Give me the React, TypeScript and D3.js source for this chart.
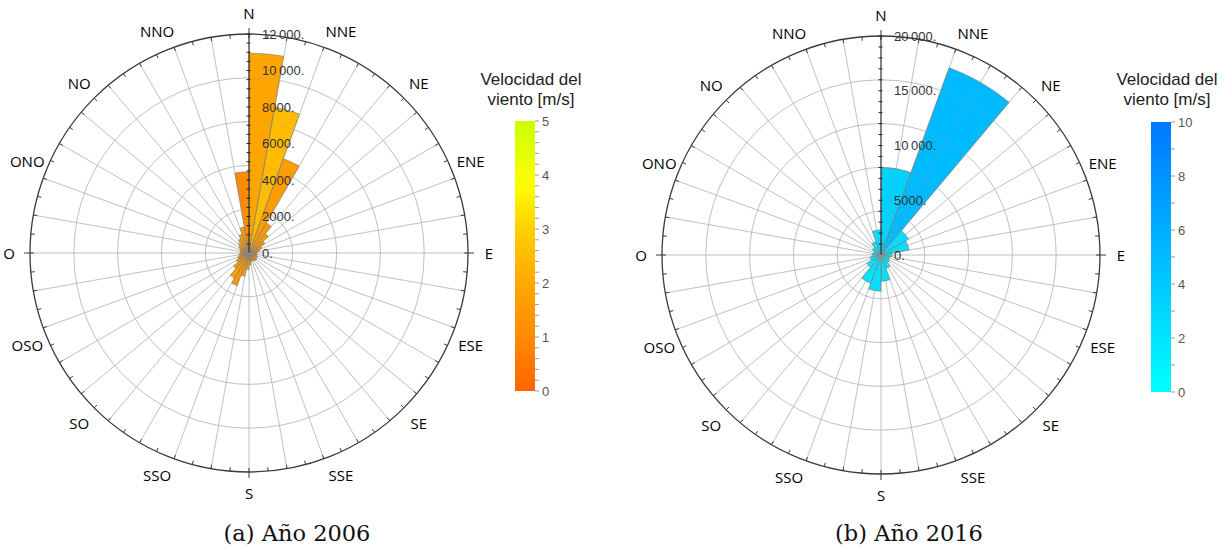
import { useEffect, useRef } from "react";
import * as d3 from "d3";

// 16 compass labels, clockwise from north (Spanish: O = oeste)
const directions = ["N", "NNE", "NE", "ENE", "E", "ESE", "SE", "SSE", "S", "SSO", "SO", "OSO", "O", "ONO", "NO", "NNO"];

// 2006: 36 sectors of 10°, clockwise from N
const freq2006 = [10950, 8100, 5500, 1900, 1400, 1000, 750, 600, 450, 400, 450, 500, 500, 550, 500, 450, 500, 650,
  900, 1300, 1900, 1600, 1100, 800, 650, 550, 500, 450, 500, 550, 650, 750, 900, 1100, 1450, 4450];
const speed2006 = [1.9, 2.5, 1.6, 1.6, 1.5, 1.4, 1.3, 1.2, 1.2, 1.1, 1.2, 1.3, 1.3, 1.4, 1.3, 1.2, 1.3, 1.4,
  1.5, 1.6, 1.4, 1.7, 1.5, 1.3, 1.2, 1.2, 1.1, 1.1, 1.2, 1.2, 1.3, 1.4, 1.5, 1.6, 1.5, 1.05];

// 2016: 18 sectors of 20°, clockwise from N
const freq2016 = [8000, 18200, 2900, 2600, 1000, 800, 900, 1300, 2400, 3300, 2750, 1500, 1000, 800, 700, 900, 1300, 2300];
const speed2016 = [3.4, 5.1, 2.4, 2.2, 1.8, 1.6, 1.6, 1.8, 2.0, 2.2, 2.1, 1.8, 1.6, 1.5, 1.5, 1.6, 1.8, 2.2];

const radialTicks2006 = [0, 2000, 4000, 6000, 8000, 10000, 12000];
const radialTicks2016 = [0, 5000, 10000, 15000, 20000];
const speedTicks2006 = [0, 1, 2, 3, 4, 5];
const speedTicks2016 = [0, 2, 4, 6, 8, 10];

const R = 219;

function fmt(v: number) {
  if (v >= 10000) return d3.format(",")(v).replace(",", "\u2009") + ".";
  return v + ".";
}

function drawGrid(g: any, stroke: string, opacity: number) {
  const rad = (deg: number) => (deg * Math.PI) / 180;
  g.selectAll(null)
    .data([1, 2, 3, 4])
    .join("circle")
    .attr("r", (d: number) => (d * R) / 5)
    .attr("fill", "none")
    .attr("stroke", stroke)
    .attr("stroke-opacity", opacity);
  g.selectAll(null)
    .data(d3.range(0, 360, 10))
    .join("line")
    .attr("x1", 0)
    .attr("y1", 0)
    .attr("x2", (d: number) => R * Math.sin(rad(d)))
    .attr("y2", (d: number) => -R * Math.cos(rad(d)))
    .attr("stroke", stroke)
    .attr("stroke-opacity", opacity);
}

function drawRose(svg: any, o: any) {
  const g = svg.append("g").attr("transform", `translate(${o.cx},${o.cy})`);
  const r = d3.scaleLinear().domain([0, o.max]).range([0, R]);
  const angle = d3.scaleLinear().domain([0, o.freq.length]).range([0, 2 * Math.PI]);
  const color = d3.scaleLinear<string>().domain(o.colorDomain).range(o.colorRange).clamp(true);
  const rad = (deg: number) => (deg * Math.PI) / 180;

  drawGrid(g.append("g"), "#d4d4d4", 1);

  // sectors
  const arc = d3.arc<any>();
  g.append("g")
    .selectAll("path")
    .data(o.freq)
    .join("path")
    .attr("d", (d: number, i: number) =>
      arc({ innerRadius: 0, outerRadius: r(d), startAngle: angle(i), endAngle: angle(i + 1) })
    )
    .attr("fill", (d: number, i: number) => color(o.speed[i]))
    .attr("stroke", "#6b6b6b")
    .attr("stroke-opacity", 0.75)
    .attr("stroke-width", 0.7);

  // grid faintly visible through the sectors
  drawGrid(g.append("g"), "#9a9a9a", 0.28);

  // outer circle
  g.append("circle").attr("r", R).attr("fill", "none").attr("stroke", "#3a3a3a").attr("stroke-width", 1.3);

  // small ticks every 5° pointing inward
  g.append("g")
    .selectAll("line")
    .data(d3.range(0, 360, 5))
    .join("line")
    .attr("x1", (d: number) => R * Math.sin(rad(d)))
    .attr("y1", (d: number) => -R * Math.cos(rad(d)))
    .attr("x2", (d: number) => (R - 4) * Math.sin(rad(d)))
    .attr("y2", (d: number) => -(R - 4) * Math.cos(rad(d)))
    .attr("stroke", "#3a3a3a")
    .attr("stroke-width", 1);

  // cardinal ticks pointing outward
  g.append("g")
    .selectAll("line")
    .data([0, 90, 180, 270])
    .join("line")
    .attr("x1", (d: number) => R * Math.sin(rad(d)))
    .attr("y1", (d: number) => -R * Math.cos(rad(d)))
    .attr("x2", (d: number) => (R + 6) * Math.sin(rad(d)))
    .attr("y2", (d: number) => -(R + 6) * Math.cos(rad(d)))
    .attr("stroke", "#3a3a3a")
    .attr("stroke-width", 1);

  // direction labels
  g.append("g")
    .selectAll("text")
    .data(directions)
    .join("text")
    .attr("x", (d: string, i: number) => 240 * Math.sin(rad(i * 22.5)))
    .attr("y", (d: string, i: number) => -240 * Math.cos(rad(i * 22.5)))
    .attr("text-anchor", "middle")
    .attr("dominant-baseline", "central")
    .attr("font-family", "'Open Sans', sans-serif")
    .attr("font-size", 15)
    .attr("fill", "#000")
    .text((d: string) => d);

  // radial axis along N
  g.append("line").attr("x1", 0).attr("y1", 0).attr("x2", 0).attr("y2", -R).attr("stroke", "#222").attr("stroke-width", 1);
  g.append("g")
    .selectAll("line")
    .data(d3.range(o.minor, o.max + 1, o.minor))
    .join("line")
    .attr("x1", -2.5)
    .attr("x2", 1.5)
    .attr("y1", (d: number) => -r(d))
    .attr("y2", (d: number) => -r(d))
    .attr("stroke", "#222")
    .attr("stroke-width", 1);
  g.append("g")
    .selectAll("text")
    .data(o.radialTicks)
    .join("text")
    .attr("x", 13)
    .attr("y", (d: number) => -r(d))
    .attr("dominant-baseline", "central")
    .attr("font-family", "'Liberation Sans', Arial, sans-serif")
    .attr("font-size", 13)
    .attr("fill", "#333")
    .text((d: number) => fmt(d));

  // colour bar
  const cb = svg.append("g");
  const y = d3.scaleLinear().domain([0, o.speedMax]).range([o.cbBottom, o.cbTop]);
  const grad = svg
    .append("defs")
    .append("linearGradient")
    .attr("id", o.id)
    .attr("x1", 0)
    .attr("y1", 1)
    .attr("x2", 0)
    .attr("y2", 0);
  grad
    .selectAll("stop")
    .data(d3.range(0, 1.0001, 0.05))
    .join("stop")
    .attr("offset", (d: number) => d)
    .attr("stop-color", (d: number) => color(d * o.speedMax));
  cb.append("rect")
    .attr("x", o.cbX)
    .attr("y", o.cbTop)
    .attr("width", 20)
    .attr("height", o.cbBottom - o.cbTop)
    .attr("fill", `url(#${o.id})`);
  cb.append("g")
    .selectAll("line")
    .data(d3.range(0, o.speedMax + 0.0001, o.speedMinor))
    .join("line")
    .attr("x1", o.cbX + 20)
    .attr("x2", o.cbX + 24)
    .attr("y1", (d: number) => y(d))
    .attr("y2", (d: number) => y(d))
    .attr("stroke", "#999")
    .attr("stroke-width", 1);
  cb.append("g")
    .selectAll("text")
    .data(o.speedTicks)
    .join("text")
    .attr("x", o.cbX + 27)
    .attr("y", (d: number) => y(d))
    .attr("dominant-baseline", "central")
    .attr("font-family", "'Liberation Sans', Arial, sans-serif")
    .attr("font-size", 13)
    .attr("fill", "#555")
    .text((d: number) => d);
  const title = cb
    .append("text")
    .attr("text-anchor", "middle")
    .attr("font-family", "'Liberation Sans', Arial, sans-serif")
    .attr("font-size", 17)
    .attr("fill", "#222");
  title.append("tspan").attr("x", o.titleX).attr("y", 85).text("Velocidad del");
  title.append("tspan").attr("x", o.titleX).attr("y", 105).text("viento [m/s]");

  // caption
  svg
    .append("text")
    .attr("x", o.capX)
    .attr("y", 541)
    .attr("text-anchor", "middle")
    .attr("font-family", "'DejaVu Serif', serif")
    .attr("font-size", 22.5)
    .attr("fill", "#111")
    .text(o.caption);
}

export default function App() {
  const svgRef = useRef<SVGSVGElement>(null);

  useEffect(() => {
    if (!svgRef.current) return;
    const svg = d3.select(svgRef.current);
    svg.selectAll("*").remove();

    drawRose(svg, {
      id: "cb2006",
      cx: 249,
      cy: 253,
      max: 12000,
      minor: 500,
      freq: freq2006,
      speed: speed2006,
      radialTicks: radialTicks2006,
      colorDomain: [0, 1, 2, 3, 3.8, 5],
      colorRange: ["#ff6400", "#ff8a00", "#ffa800", "#ffcf00", "#ffff00", "#ccff00"],
      speedMax: 5,
      speedMinor: 0.2,
      speedTicks: speedTicks2006,
      cbX: 515,
      cbTop: 121,
      cbBottom: 391,
      titleX: 531,
      capX: 297,
      caption: "(a) Año 2006",
    });

    drawRose(svg, {
      id: "cb2016",
      cx: 881,
      cy: 255,
      max: 20000,
      minor: 1000,
      freq: freq2016,
      speed: speed2016,
      radialTicks: radialTicks2016,
      colorDomain: [0, 10],
      colorRange: ["#00ffff", "#0078ff"],
      speedMax: 10,
      speedMinor: 1,
      speedTicks: speedTicks2016,
      cbX: 1151,
      cbTop: 122,
      cbBottom: 392,
      titleX: 1167,
      capX: 909,
      caption: "(b) Año 2016",
    });
  }, []);

  return (
    <svg
      ref={svgRef}
      width={1225}
      height={548}
      style={{ position: "absolute", left: 0, top: 0, background: "#fff" }}
    ></svg>
  );
}
